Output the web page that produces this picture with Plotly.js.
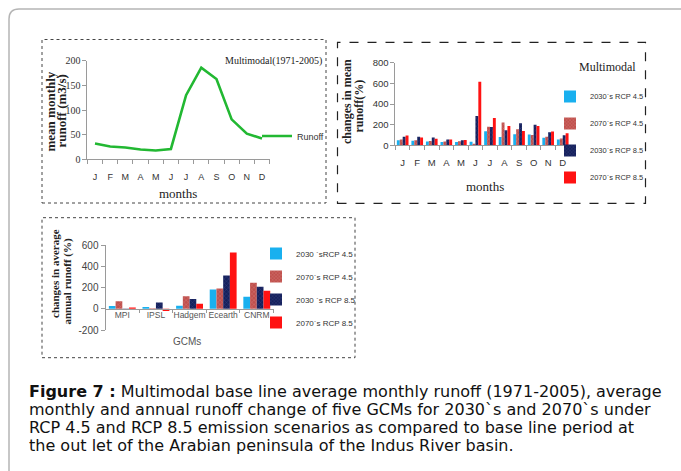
<!DOCTYPE html>
<html><head><meta charset="utf-8">
<script src="https://cdn.plot.ly/plotly-3.0.1.min.js"></script>
<style>html,body{margin:0;padding:0;background:#fff}#chart{width:681px;height:471px}</style>
</head><body><div id="chart"></div>
<script>
// ---- data ----
const monthIdx = [0,1,2,3,4,5,6,7,8,9,10,11];
const monthLabels = ['J','F','M','A','M','J','J','A','S','O','N','D'];
const baseRunoff = [32,26,24,20,18,21,130,186,163,81,52,42];

const monthlyNames = ['2030`s RCP 4.5','2070`s RCP 4.5','2030`s RCP 8.5','2070`s RCP 8.5'];
const m2030r45 = [50,43,38,33,33,35,135,80,108,104,72,57];
const m2070r45 = [55,48,42,37,40,15,180,222,156,100,82,66];
const m2030r85 = [82,82,75,57,50,284,178,145,214,198,127,98];
const m2070r85 = [95,76,64,57,52,616,265,188,138,188,133,117];

const gcms = ['MPI','IPSL','Hadgem','Ecearth','CNRM'];
const annualNames = ['2030 `sRCP 4.5','2070`s RCP 4.5','2030 `s RCP 8.5','2070`s RCP 8.5'];
const a2030r45 = [25,16,28,182,113];
const a2070r45 = [72,6,119,192,245];
const a2030r85 = [3,60,91,314,207];
const a2070r85 = [12,-22,47,531,170];

const y1Ticks = [0,50,100,150,200];
const y2Ticks = [0,200,400,600,800];
const y3Ticks = [-200,0,200,400,600];
const y3Labels = ['-200','0','200','400','600'];

// ---- styling helpers ----
const W = 681, H = 471;
const fx = p => p / W;
const fy = p => 1 - p / H;
const SANS = 'Liberation Sans, Arial, sans-serif';
const SERIF = 'Liberation Serif, Times New Roman, serif';
const CAP = 'DejaVu Sans, Liberation Sans, sans-serif';
const AX = '#9a9a9a';
const TXT = '#333333';

const cCyan = '#19b0ef', cBrown = '#c0504d', cNavy = '#15205c', cRed = '#ff1212';
const patBrown = {shape:'x', fillmode:'overlay', fgcolor:'#e9b0aa', fgopacity:0.6, size:3, solidity:0.2};
const patNavy = {shape:'x', fillmode:'overlay', fgcolor:'#6a78b5', fgopacity:0.5, size:3, solidity:0.2};

function barSet(names, series, xs, xa, ya, leg) {
  const cols = [cCyan, cBrown, cNavy, cRed];
  const pats = [null, patBrown, patNavy, null];
  return series.map((s, i) => {
    const mk = {color: cols[i]};
    if (pats[i]) mk.pattern = pats[i];
    return {type:'bar', x: xs, y: s, name: names[i], marker: mk,
            xaxis: xa, yaxis: ya, legend: leg, legendgroup: leg + i, hoverinfo:'y'};
  });
}

const traces = [
  {type:'scatter', mode:'lines', x: monthIdx, y: baseRunoff, name:'Runoff',
   line:{color:'#22b832', width:2.6}, xaxis:'x', yaxis:'y', legend:'legend'},
  ...barSet(monthlyNames, [m2030r45, m2070r45, m2030r85, m2070r85], monthIdx, 'x2', 'y2', 'legend2'),
  ...barSet(annualNames, [a2030r45, a2070r45, a2030r85, a2070r85], gcms, 'x3', 'y3', 'legend3')
];

const baseAxis = {showgrid:false, zeroline:false, showline:true, linecolor:AX, linewidth:1,
                  tickcolor:AX, ticklen:4, fixedrange:true};

function note(x, y, text, font, extra) {
  return Object.assign({xref:'paper', yref:'paper', x:fx(x), y:fy(y), text:text, showarrow:false,
                        xanchor:'center', yanchor:'middle', font:font}, extra || {});
}

const layout = {
  width: W, height: H, margin:{l:0,r:0,t:0,b:0},
  paper_bgcolor:'#fff', plot_bgcolor:'rgba(0,0,0,0)',
  barmode:'group', bargap:0.2, bargroupgap:0,
  showlegend:true,
  xaxis: Object.assign({}, baseAxis, {
    domain:[fx(87.4), fx(269.6)], anchor:'y', range:[-0.5,11.5],
    tickmode:'array', tickvals: monthIdx, ticktext: monthLabels, ticks:'', tickangle:0,
    ticklabelstandoff: 9,
    minor:{tick0:-0.5, dtick:1, ticks:'outside', ticklen:4, tickcolor:AX, showgrid:false},
    tickfont:{family:SANS, size:9, color:TXT}
  }),
  yaxis: Object.assign({}, baseAxis, {
    domain:[fy(159.3), fy(60.7)], anchor:'x', range:[0,200],
    tickmode:'array', tickvals: y1Ticks, ticks:'outside',
    tickfont:{family:SERIF, size:10, color:TXT}
  }),
  xaxis2: Object.assign({}, baseAxis, {
    domain:[fx(395.4), fx(570)], anchor:'y2', range:[-0.5,11.5],
    tickmode:'array', tickvals: monthIdx, ticktext: monthLabels, ticks:'', tickangle:0,
    ticklabelstandoff: 8,
    minor:{tick0:-0.5, dtick:1, ticks:'outside', ticklen:4, tickcolor:AX, showgrid:false},
    tickfont:{family:SANS, size:9.5, color:TXT}
  }),
  yaxis2: Object.assign({}, baseAxis, {
    domain:[fy(145.3), fy(62.7)], anchor:'x2', range:[0,800],
    tickmode:'array', tickvals: y2Ticks, ticks:'outside',
    tickfont:{family:SANS, size:9.5, color:TXT}
  }),
  xaxis3: Object.assign({}, baseAxis, {
    domain:[fx(105.5), fx(273.6)], anchor:'free', position: fy(308.7),
    type:'category', tickson:'boundaries', ticks:'outside', ticklen:3, tickangle:0,
    ticklabelstandoff: -2,
    tickfont:{family:SANS, size:8.5, color:'#555'}
  }),
  yaxis3: Object.assign({}, baseAxis, {
    domain:[fy(330), fy(245.1)], anchor:'x3', range:[-200,600],
    tickmode:'array', tickvals: y3Ticks, ticktext: y3Labels, ticks:'outside',
    tickfont:{family:SANS, size:10, color:'#444'}
  }),
  legend: {x: fx(257), y: fy(136), xanchor:'left', yanchor:'middle',
           bgcolor:'rgba(0,0,0,0)', borderwidth:0, itemwidth:30,
           font:{family:SANS, size:9, color:TXT}},
  legend2: {x: fx(550), y: fy(137), xanchor:'left', yanchor:'middle',
            bgcolor:'rgba(0,0,0,0)', borderwidth:0, traceorder:'grouped', tracegroupgap:8,
            font:{family:SANS, size:7.5, color:TXT}},
  legend3: {x: fx(256), y: fy(288), xanchor:'left', yanchor:'middle',
            bgcolor:'rgba(0,0,0,0)', borderwidth:0, traceorder:'grouped', tracegroupgap:4,
            font:{family:SANS, size:8, color:TXT}},
  shapes: [
    {type:'path', xref:'paper', yref:'paper',
     path:`M ${fx(9)},${fy(480)} L ${fx(9)},${fy(19)} Q ${fx(9)},${fy(9)} ${fx(19)},${fy(9)} L ${fx(700)},${fy(9)}`,
     line:{color:'#b5b5b5', width:1.5}},
    {type:'rect', xref:'paper', yref:'paper', x0:fx(42), x1:fx(326), y0:fy(203), y1:fy(39.5),
     line:{color:'#444', width:1, dash:'dot'}},
    {type:'rect', xref:'paper', yref:'paper', x0:fx(337.5), x1:fx(645.5), y0:fy(203.3), y1:fy(42.3),
     line:{color:'#222', width:1.2, dash:'dash'}},
    {type:'rect', xref:'paper', yref:'paper', x0:fx(42), x1:fx(355), y0:fy(357.7), y1:fy(217.7),
     line:{color:'#444', width:1, dash:'dot'}}
  ],
  annotations: [
    note(273, 61, 'Multimodal(1971-2005)', {family:SERIF, size:10, color:'#222'}),
    note(50.5, 111, 'mean monthly', {family:SERIF, size:13, color:'#222', weight:'bold'}, {textangle:-90}),
    note(61.5, 111, 'runoff (m3/s)', {family:SERIF, size:13, color:'#222', weight:'bold'}, {textangle:-90}),
    note(178, 193, 'months', {family:SERIF, size:13, color:'#222'}),

    note(607, 67, 'Multimodal', {family:SERIF, size:12, color:'#222'}),
    note(347, 102, 'changes in mean', {family:SERIF, size:12, color:'#222', weight:'bold'}, {textangle:-90}),
    note(358.5, 106, 'runoff(%)', {family:SERIF, size:12, color:'#222', weight:'bold'}, {textangle:-90}),
    note(485, 186, 'months', {family:SERIF, size:13, color:'#222'}),

    note(55, 274, 'changes in average', {family:SERIF, size:11, color:'#222', weight:'bold'}, {textangle:-90}),
    note(66.5, 281, 'annual runoff (%)', {family:SERIF, size:11, color:'#222', weight:'bold'}, {textangle:-90}),
    note(187, 341, 'GCMs', {family:SANS, size:10, color:'#555'}),

    note(27, 391, '<b>Figure 7 :</b> Multimodal base line average monthly runoff (1971-2005), average',
         {family:CAP, size:16, color:'#111'}, {xanchor:'left'}),
    note(27, 409, 'monthly and annual runoff change of five GCMs for 2030`s and 2070`s under',
         {family:CAP, size:16, color:'#111'}, {xanchor:'left'}),
    note(27, 427, 'RCP 4.5 and RCP 8.5 emission scenarios as compared to base line period at',
         {family:CAP, size:16, color:'#111'}, {xanchor:'left'}),
    note(27, 445, 'the out let of the Arabian peninsula of the Indus River basin.',
         {family:CAP, size:16, color:'#111'}, {xanchor:'left'})
  ]
};

Plotly.newPlot('chart', traces, layout, {staticPlot:true, displayModeBar:false});
</script>
</body></html>
